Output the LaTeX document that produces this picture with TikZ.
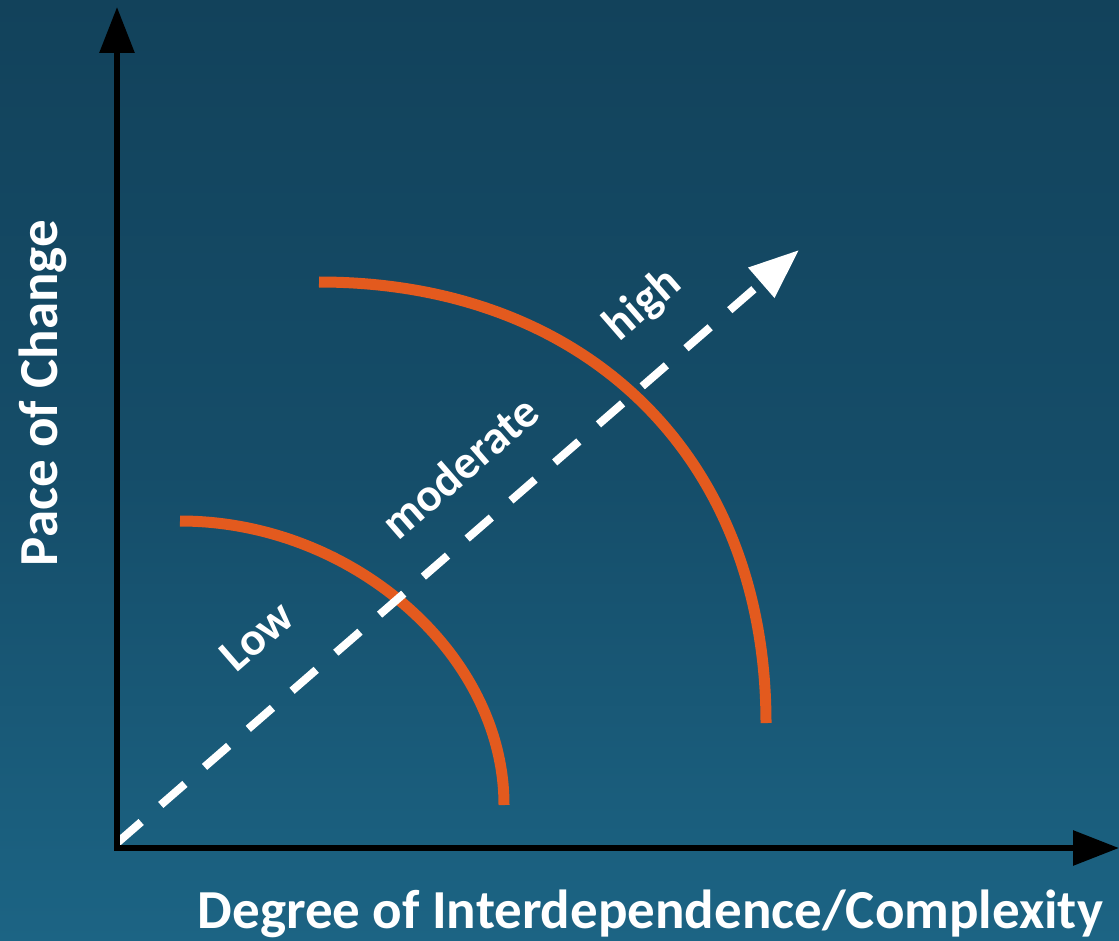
\documentclass[tikz,border=0pt]{standalone}
\usepackage{fontspec}
\setmainfont{Carlito}
\usetikzlibrary{arrows.meta}
\definecolor{bgtop}{HTML}{12425B}
\definecolor{bgmid}{HTML}{154D69}
\definecolor{bgbot}{HTML}{1C6484}
\definecolor{arcorange}{HTML}{E35A1E}
\tikzset{
  axis/.style={line width=6pt, draw=black, -{Triangle[length=46pt,width=34pt]}},
  diag/.style={line width=8pt, draw=white, dash pattern=on 32pt off 26pt, -{Triangle[length=50pt,width=38pt]}},
  band/.style={line width=11pt, draw=arcorange},
  biglabel/.style={text=white, font=\bfseries\fontsize{55}{66}\selectfont, inner sep=0pt},
  difflabel/.style={text=white, font=\bfseries\fontsize{47}{56}\selectfont, inner sep=0pt, rotate=41},
}
\begin{document}
\begin{tikzpicture}[x=1pt,y=-1pt]
\useasboundingbox (0,0) rectangle (1119,941);
\shade[top color=bgtop, bottom color=bgbot, middle color=bgmid] (0,0) rectangle (1119,941);
% axes
\coordinate (O) at (117,848);
\coordinate (ytip) at (117,7);
\coordinate (xtip) at (1119,848);
\coordinate (dstart) at (117,843);
\coordinate (dtip) at (799,250);
% arcs
\coordinate (a1s) at (180,521);
\coordinate (a1e) at (504,805);
\coordinate (a2s) at (319,282);
\coordinate (a2e) at (766,723);
\draw[band] (a1s) .. controls (352,521) and (504,654) .. (a1e);
\draw[band] (a2s) .. controls (587,282) and (766,458) .. (a2e);
\draw[diag] (dstart) -- (dtip);
\draw[axis] ([yshift=3pt]O) -- (ytip);
\draw[axis] ([xshift=-3pt]O) -- (xtip);
% labels
\node[biglabel, anchor=base] (xl) at (650.5,928) {Degree of Interdependence/Complexity};
\node[biglabel, anchor=base, rotate=90] (yl) at (57,393) {Pace of Change};
\node[difflabel] (low) at (257,636) {Low};
\node[difflabel] (mod) at (460,467) {moderate};
\node[difflabel] (high) at (643,305) {high};
\end{tikzpicture}
\end{document}
